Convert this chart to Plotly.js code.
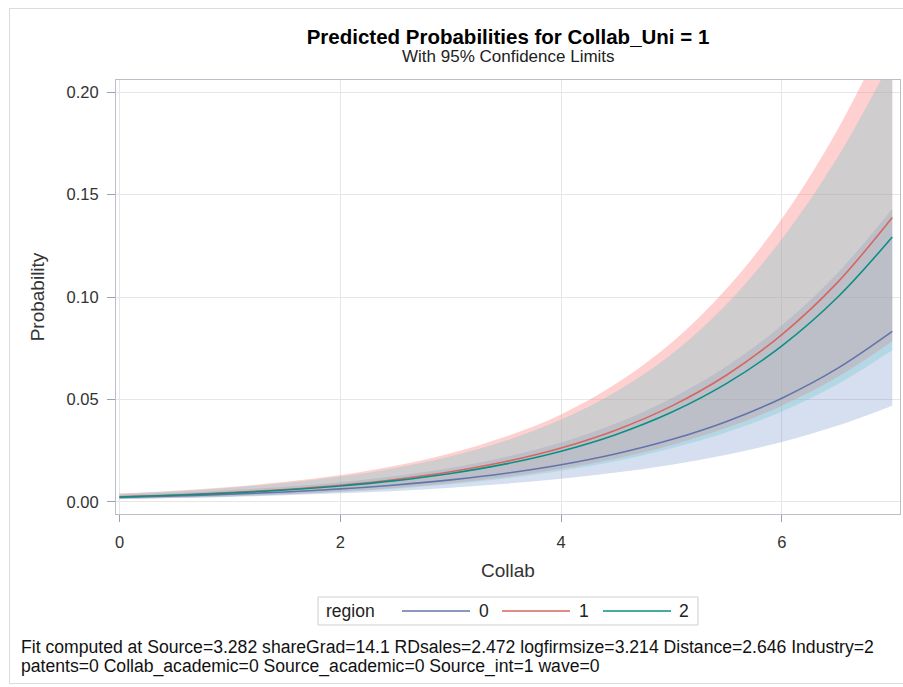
<!DOCTYPE html>
<html>
<head>
<meta charset="utf-8">
<script src="https://cdn.plot.ly/plotly-3.0.1.min.js"></script>
<style>
  html, body { margin: 0; padding: 0; background: #ffffff; }
  #frame { position: absolute; left: 9px; top: 8px; width: 900px; height: 676px; border: 1px solid #dcdcdc; box-sizing: border-box; }
  #chart { position: absolute; left: 0; top: 0; width: 903px; height: 687px; }
</style>
</head>
<body>
<div id="frame"></div>
<div id="chart"></div>
<script>
// ---- data ----
const collab = [0, 0.5, 1, 1.5, 2, 2.5, 3, 3.5, 4, 4.5, 5, 5.5, 6, 6.5, 7];

// region 0
const prob0  = [0.00220, 0.00287, 0.00374, 0.00487, 0.00634, 0.00825, 0.01073, 0.01395, 0.01811, 0.02349, 0.03041, 0.03929, 0.05063, 0.06502, 0.0832];
const upper0 = [0.00344, 0.00444, 0.00573, 0.00742, 0.00962, 0.01262, 0.01656, 0.02191, 0.02894, 0.03833, 0.05061, 0.06622, 0.08621, 0.1115, 0.1431];
const lower0 = [0.00140, 0.00185, 0.00243, 0.00319, 0.00417, 0.00538, 0.00693, 0.00885, 0.01128, 0.01431, 0.01813, 0.02306, 0.02928, 0.03713, 0.04697];

// region 1
const prob1  = [0.00250, 0.00336, 0.00452, 0.00608, 0.00816, 0.01096, 0.01470, 0.01969, 0.02634, 0.03514, 0.04675, 0.06195, 0.08166, 0.1069, 0.1388];
const upper1 = [0.00411, 0.00547, 0.00728, 0.00978, 0.01313, 0.01768, 0.02378, 0.03191, 0.04270, 0.05774, 0.07764, 0.1041, 0.1382, 0.1813, 0.2341];
const lower1 = [0.00152, 0.00206, 0.00280, 0.00377, 0.00506, 0.00678, 0.00906, 0.01210, 0.01614, 0.02120, 0.02778, 0.03618, 0.04697, 0.06079, 0.07837];

// region 2
const prob2  = [0.00240, 0.00322, 0.00432, 0.00579, 0.00775, 0.01038, 0.01388, 0.01855, 0.02475, 0.03294, 0.04373, 0.05783, 0.07614, 0.09962, 0.1293];
const upper2 = [0.00395, 0.00524, 0.00696, 0.00927, 0.01235, 0.01658, 0.02224, 0.02993, 0.04016, 0.05394, 0.07210, 0.09661, 0.1283, 0.1678, 0.2164];
const lower2 = [0.00146, 0.00197, 0.00267, 0.00361, 0.00486, 0.00648, 0.00864, 0.01145, 0.01516, 0.01995, 0.02621, 0.03405, 0.04411, 0.05724, 0.07396];

const regionNames = ['0', '1', '2'];
const xTicks = [0, 2, 4, 6];
const yTicks = [0, 0.05, 0.10, 0.15, 0.20];
const yTickText = ['0.00', '0.05', '0.10', '0.15', '0.20'];

const titleText = 'Predicted Probabilities for Collab_Uni = 1';
const subtitleText = 'With 95% Confidence Limits';
const footLine1 = 'Fit computed at Source=3.282 shareGrad=14.1 RDsales=2.472 logfirmsize=3.214 Distance=2.646 Industry=2';
const footLine2 = 'patents=0 Collab_academic=0 Source_academic=0 Source_int=1 wave=0';

// ---- styles ----
const lineColors = ['#6274ad', '#d6665e', '#0b8f83'];
const fillColors = ['rgba(100,135,200,0.27)', 'rgba(255,120,120,0.35)', 'rgba(110,200,205,0.32)'];
const FONT = '"Liberation Sans", Arial, sans-serif';

const bands = [[upper0, lower0], [upper1, lower1], [upper2, lower2]];
const probs = [prob0, prob1, prob2];

const traces = [];
bands.forEach(function (b, i) {
  traces.push({ x: collab, y: b[0], mode: 'lines', line: { width: 0, shape: 'spline' }, showlegend: false, hoverinfo: 'skip' });
  traces.push({ x: collab, y: b[1], mode: 'lines', line: { width: 0, shape: 'spline' }, fill: 'tonexty', fillcolor: fillColors[i], showlegend: false, hoverinfo: 'skip' });
});
probs.forEach(function (p, i) {
  traces.push({ x: collab, y: p, mode: 'lines', name: regionNames[i], line: { color: lineColors[i], width: 1.6, shape: 'spline' }, showlegend: false });
});

// plot area in pixels: left 116, right 900, top 80, bottom 514
function px(xp) { return (xp - 116) / 784; }
function py(yp) { return (514 - yp) / 434; }

const legY = py(611);
const shapes = [
  { type: 'rect', xref: 'paper', yref: 'paper', x0: px(318), x1: px(698), y0: py(597), y1: py(625), line: { color: '#cfcfcf', width: 1 }, fillcolor: 'rgba(0,0,0,0)' }
];
const legLines = [[402, 470], [502, 570], [603, 671]];
legLines.forEach(function (l, i) {
  shapes.push({ type: 'line', xref: 'paper', yref: 'paper', x0: px(l[0]), x1: px(l[1]), y0: legY, y1: legY, line: { color: lineColors[i], width: 1.6 } });
});
const legTextX = [484, 584, 684];

const annotations = [
  { text: subtitleText, xref: 'paper', yref: 'paper', x: 0.5, y: py(56), xanchor: 'center', yanchor: 'middle', showarrow: false, font: { family: FONT, size: 17, color: '#222' } },
  { text: 'region', xref: 'paper', yref: 'paper', x: px(324), y: legY, xanchor: 'left', yanchor: 'middle', showarrow: false, font: { family: FONT, size: 17.5, color: '#222' } },
  { text: footLine1, xref: 'paper', yref: 'paper', x: px(19), y: py(647), xanchor: 'left', yanchor: 'middle', showarrow: false, font: { family: FONT, size: 17.6, color: '#111' } },
  { text: footLine2, xref: 'paper', yref: 'paper', x: px(19), y: py(666), xanchor: 'left', yanchor: 'middle', showarrow: false, font: { family: FONT, size: 17.6, color: '#111' } }
];
regionNames.forEach(function (n, i) {
  annotations.push({ text: n, xref: 'paper', yref: 'paper', x: px(legTextX[i]), y: legY, xanchor: 'center', yanchor: 'middle', showarrow: false, font: { family: FONT, size: 17.5, color: '#222' } });
});

const layout = {
  width: 903,
  height: 687,
  margin: { l: 116, r: 3, t: 80, b: 173 },
  paper_bgcolor: 'rgba(0,0,0,0)',
  plot_bgcolor: '#ffffff',
  showlegend: false,
  title: {
    text: '<b>' + titleText + '</b>',
    font: { family: FONT, size: 20.5, color: '#000' },
    xref: 'paper', x: 0.5, xanchor: 'center',
    yref: 'container', y: 1 - 37 / 687, yanchor: 'middle'
  },
  xaxis: {
    range: [-0.032, 7.07],
    tickvals: xTicks,
    ticks: 'outside', ticklen: 7, tickcolor: '#9aa3ab',
    ticklabelstandoff: 6,
    showline: true, mirror: true, linecolor: '#b9c0c7', linewidth: 1,
    showgrid: true, gridcolor: '#e6e6e6',
    zeroline: false,
    tickfont: { family: FONT, size: 16.5, color: '#333' },
    title: { text: 'Collab', font: { family: FONT, size: 19, color: '#333' }, standoff: 13 }
  },
  yaxis: {
    range: [-0.0059, 0.2059],
    tickvals: yTicks, ticktext: yTickText,
    ticks: 'outside', ticklen: 8, tickcolor: '#9aa3ab',
    ticklabelstandoff: 5,
    showline: true, mirror: true, linecolor: '#b9c0c7', linewidth: 1,
    showgrid: true, gridcolor: '#e6e6e6',
    zeroline: false,
    tickfont: { family: FONT, size: 16.5, color: '#333' },
    title: { text: 'Probability', font: { family: FONT, size: 19, color: '#333' }, standoff: 16 }
  },
  shapes: shapes,
  annotations: annotations
};

Plotly.newPlot('chart', traces, layout, { staticPlot: true, displayModeBar: false });
</script>
</body>
</html>
